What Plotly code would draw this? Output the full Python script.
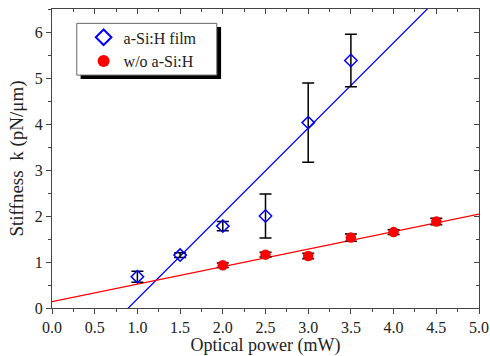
import numpy as np
import plotly.graph_objects as go

# a-Si:H film data
film_x = [1.0, 1.5, 2.0, 2.5, 3.0, 3.5]
film_y = [0.68, 1.15, 1.78, 2.00, 4.03, 5.38]
film_err = [0.12, 0.05, 0.10, 0.48, 0.86, 0.57]

# without a-Si:H data
wo_x = [2.0, 2.5, 3.0, 3.5, 4.0, 4.5]
wo_y = [0.93, 1.16, 1.13, 1.53, 1.65, 1.88]
wo_err = [0.05, 0.05, 0.06, 0.08, 0.05, 0.07]

# linear fit parameters
film_slope, film_icpt = 1.857, -1.66
wo_slope, wo_icpt = 0.38, 0.14

x_ticks = [0.0, 0.5, 1.0, 1.5, 2.0, 2.5, 3.0, 3.5, 4.0, 4.5, 5.0]
y_ticks = [0, 1, 2, 3, 4, 5, 6]

FONT = "Liberation Serif"
TXT = "#222222"
AX = "#444444"

fig = go.Figure()

xf = np.array([0.0, 5.0])
fig.add_trace(go.Scatter(x=xf, y=film_slope * xf + film_icpt, mode="lines",
                         line=dict(color="#0000ff", width=1.3), showlegend=False, hoverinfo="skip"))
fig.add_trace(go.Scatter(x=xf, y=wo_slope * xf + wo_icpt, mode="lines",
                         line=dict(color="#ff0000", width=1.3), showlegend=False, hoverinfo="skip"))

fig.add_trace(go.Scatter(
    x=film_x, y=film_y, mode="markers", name="a-Si:H film",
    marker=dict(symbol="diamond-open", size=9.5, color="#0000ff", line=dict(width=1.5, color="#0000ff")),
    error_y=dict(type="data", array=film_err, visible=True, color="black", thickness=1.5, width=6)))
fig.add_trace(go.Scatter(
    x=wo_x, y=wo_y, mode="markers", name="w/o a-Si:H",
    marker=dict(symbol="circle", size=10.5, color="#ff0000", line=dict(width=0)),
    error_y=dict(type="data", array=wo_err, visible=True, color="black", thickness=1.5, width=6)))

axis_common = dict(showline=True, linecolor=AX, linewidth=1.2, ticks="outside",
                   tickcolor=AX, tickwidth=1.2, ticklen=5, showgrid=False, zeroline=False,
                   automargin=False,
                   tickfont=dict(family=FONT, size=16, color=TXT))

fig.update_layout(
    width=490, height=356,
    margin=dict(l=52, r=11, t=9, b=48, autoexpand=False),
    paper_bgcolor="white", plot_bgcolor="white",
    font=dict(family=FONT, color=TXT),
    xaxis=dict(range=[0, 5], tickvals=x_ticks, ticktext=[f"{v:.1f}" for v in x_ticks],
               minor=dict(ticks="outside", dtick=0.25, ticklen=3, tickcolor=AX),
               title=dict(text="Optical power (mW)", font=dict(family=FONT, size=18, color=TXT), standoff=3),
               **axis_common),
    yaxis=dict(range=[0, 6.5], tickvals=y_ticks,
               minor=dict(ticks="outside", dtick=0.5, ticklen=3, tickcolor=AX),
               title=dict(text="Stiffness  k (pN/μm)", font=dict(family=FONT, size=19, color=TXT), standoff=6),
               **axis_common),
    xaxis2=dict(overlaying="x", side="top", matches="x", range=[0, 5], tickvals=x_ticks,
                showticklabels=False, showline=True, linecolor=AX, linewidth=1.2,
                ticks="inside", ticklen=5, tickcolor=AX, tickwidth=1.2, automargin=False,
                minor=dict(ticks="inside", dtick=0.25, ticklen=3, tickcolor=AX),
                showgrid=False, zeroline=False),
    yaxis2=dict(overlaying="y", side="right", matches="y", range=[0, 6.5], tickvals=y_ticks,
                showticklabels=False, showline=True, linecolor=AX, linewidth=1.2,
                ticks="inside", ticklen=5, tickcolor=AX, tickwidth=1.2, automargin=False,
                minor=dict(ticks="inside", dtick=0.5, ticklen=3, tickcolor=AX),
                showgrid=False, zeroline=False),
    legend=dict(x=0.074, y=0.962, xanchor="left", yanchor="top",
                bgcolor="rgba(0,0,0,0)", borderwidth=0,
                font=dict(family=FONT, size=16, color=TXT),
                itemsizing="constant", tracegroupgap=0),
    shapes=[
        dict(type="rect", xref="paper", yref="paper", x0=0.067, x1=0.396, y0=0.766, y1=0.940,
             fillcolor="black", line=dict(width=0), layer="above"),
        dict(type="rect", xref="paper", yref="paper", x0=0.058, x1=0.386, y0=0.779, y1=0.952,
             fillcolor="white", line=dict(width=1, color="#666666"), layer="above"),
    ],
    showlegend=True,
)
# invisible trace binding the mirror axes
fig.add_trace(go.Scatter(x=[0], y=[0], xaxis="x2", yaxis="y2", mode="markers",
                         marker=dict(opacity=0), showlegend=False, hoverinfo="skip"))

fig.write_html("out.html")
